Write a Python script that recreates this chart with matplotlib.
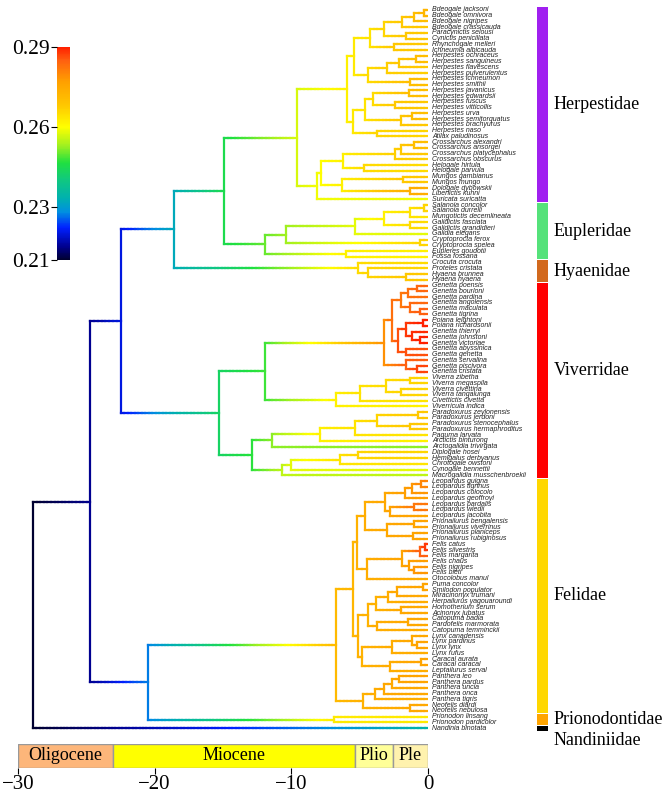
import numpy as np
import matplotlib
matplotlib.use("Agg")
import matplotlib.pyplot as plt
from matplotlib.collections import LineCollection
from matplotlib.colors import LinearSegmentedColormap, Normalize
from matplotlib.cm import ScalarMappable

# -----------------------------
# 1. Tree data: "(child,child)age|rate", tips "Name|rate" (rate defaults to parent)
# -----------------------------
bdeogale = ("(((((Bdeogale jacksoni,Bdeogale omnivora)0.3|0.272,Bdeogale nigripes)1.0|0.27,"
            "Bdeogale crassicauda)1.9|0.268,(Paracynictis selousi,Cynictis penicillata)1.6|0.268)3.2|0.266,"
            "(Rhynchogale melleri,Ichneumia albicauda)2.5|0.268)4.25|0.264")
herpestes_a = ("((((Herpestes ochraceus,Herpestes sanguineus)0.9|0.27,Herpestes flavescens)2.1|0.268,"
               "Herpestes pulverulentus)3.0|0.267,(Herpestes ichneumon,Herpestes smithii)1.3|0.27)4.4|0.265")
herpestes_b = ("((((Herpestes javanicus,Herpestes edwardsii)1.4|0.27,(Herpestes fuscus,Herpestes vitticollis)2.4|0.268)4.0|0.265,"
               "((Herpestes urva,Herpestes semitorquatus)1.2|0.27,Herpestes brachyurus)2.0|0.268)4.6|0.264,"
               "(Herpestes naso,Atilax paludinosus)3.7|0.266)5.5|0.263")
mungotinae = ("((((((Crossarchus alexandri,Crossarchus ansorgei)1.0|0.27,Crossarchus platycephalus)2.0|0.268,"
              "Crossarchus obscurus)2.4|0.267,(Helogale hirtula,Helogale parvula)4.7|0.265)6.2|0.262,"
              "((Mungos gambianus,Mungos mungo)1.8|0.268,(Dologale dybowskii,Liberiictis kuhni)1.3|0.274)6.3|0.262)7.8|0.26,"
              "Suricata suricatta)8.1|0.259")
herpestidae = "(((" + bdeogale + "," + herpestes_a + ")5.4|0.263," + herpestes_b + ")5.9|0.262," + mungotinae + ")9.6|0.257"

eupleridae = ("((((((Salanoia concolor,Salanoia durrelli)0.3|0.266,Mungotictis decemlineata)1.3|0.264,"
              "(Galidictis fasciata,Galidictis grandidieri)1.3|0.265)3.2|0.262,Galidia elegans)5.35|0.258,"
              "(Cryptoprocta ferox,Cryptoprocta spelea)0.6|0.266)10.4|0.253,"
              "(Eupleres goudotii,Fossa fossana)6.0|0.262)11.9|0.25")

hyaenidae = "(Crocuta crocuta,(Proteles cristata,(Hyaena brunnea,Hyaena hyaena)1.6|0.268)4.4|0.266)5.1|0.265"

genetta_a = ("(((Genetta poensis,Genetta bourloni)0.8|0.284,Genetta pardina)1.5|0.283,"
             "(Genetta angolensis,(Genetta maculata,Genetta tigrina)0.6|0.285)1.3|0.284)2.0|0.282")
genetta_b = ("((Poiana leightoni,Poiana richardsonii)0.4|0.29,"
             "(Genetta thierryi,(Genetta johnstoni,Genetta victoriae)0.6|0.29)1.2|0.289)1.6|0.288")
genetta_c = "(Genetta abyssinica,Genetta genetta)1.6|0.286"
genetta_d = "(Genetta servalina,(Genetta piscivora,Genetta cristata)0.8|0.287)1.6|0.285"
genettinae = "((" + genetta_a + ",(" + genetta_b + "," + genetta_c + ")2.2|0.286)2.6|0.283," + genetta_d + ")3.2|0.279"
viverra = ("((((Viverra zibetha,Viverra megaspila)1.3|0.266,(Viverra civettina,Viverra tangalunga)2.0|0.266)3.1|0.265,"
           "Civettictis civetta)5.0|0.264,Viverricula indica)6.7|0.262")
paradoxurinae = ("(((((Paradoxurus zeylonensis,Paradoxurus jerdoni)0.7|0.268,"
                 "(Paradoxurus stenocephalus,Paradoxurus hermaphroditus)1.3|0.268)3.7|0.266,Paguma larvata)5.35|0.264,"
                 "Arctictis binturong)7.9|0.262,Arctogalidia trivirgata)11.45|0.252")
hemigalinae = ("((((Diplogale hosei,Hemigalus derbyanus)5.1|0.266,Chrotogale owstoni)6.45|0.264,"
               "Cynogale bennettii)10.0|0.258,Macrogalidia musschenbroekii)10.7|0.255")
viverridae = ("((" + genettinae + "," + viverra + ")11.9|0.248,(" + paradoxurinae + "," + hemigalinae
              + ")12.9|0.247)15.3|0.243")

leopardus = ("((((Leopardus guigna,Leopardus tigrinus)0.5|0.28,Leopardus colocolo)1.2|0.278,Leopardus geoffroyi)1.7|0.277,"
             "((Leopardus pardalis,Leopardus wiedii)1.0|0.282,Leopardus jacobita)2.8|0.276)3.15|0.275")
prionailurus = ("((Prionailurus bengalensis,Prionailurus viverrinus)1.0|0.276,"
                "(Prionailurus planiceps,Prionailurus rubiginosus)1.1|0.276)3.0|0.275")
felis = ("(((Felis catus,Felis silvestris)0.25|0.288,Felis margarita)0.6|0.285,"
         "(Felis chaus,(Felis nigripes,Felis bieti)1.0|0.278)1.4|0.277)1.93|0.276")
puma = ("((((Puma concolor,Smilodon populator)0.4|0.276,Miracinonyx trumani)2.3|0.275,Herpailurus yagouaroundi)2.9|0.274,"
        "(Homotherium serum,Acinonyx jubatus)2.0|0.275)3.8|0.273")
baycat = "((Catopuma badia,Pardofelis marmorata)1.5|0.275,Catopuma temminckii)3.7|0.274"
lynx = "((Lynx canadensis,(Lynx pardinus,Lynx lynx)0.8|0.276)1.2|0.275,Lynx rufus)2.6|0.274"
caracal = "((Caracal aurata,Caracal caracal)0.5|0.276,Leptailurus serval)2.8|0.274"
pantherinae = ("(((((Panthera leo,Panthera pardus)2.1|0.276,Panthera uncia)2.6|0.275,Panthera onca)3.2|0.275,"
               "Panthera tigris)3.88|0.274,(Neofelis diardi,Neofelis nebulosa)1.3|0.275)4.76|0.273")
felinae = ("(((" + leopardus + "," + prionailurus + ")4.6|0.274,(" + felis + ",Otocolobus manul)4.5|0.274)5.22|0.273,"
           "((" + puma + "," + baycat + ")4.4|0.273,(" + lynx + "," + caracal + ")4.86|0.273)5.1|0.273)5.47|0.272")
felidae = "(" + felinae + "," + pantherinae + ")6.74|0.271"
prionodontidae = "(Prionodon linsang,Prionodon pardicolor)6.86|0.263"
nandiniidae = "Nandinia binotata|0.234"

tree_str = ("(((((" + herpestidae + "," + eupleridae + ")14.9|0.245," + hyaenidae + ")18.6|0.232,"
            + viverridae + ")22.5|0.22,(" + felidae + "," + prionodontidae + ")20.5|0.227)24.7|0.215,"
            + nandiniidae + ")28.9|0.21")

family_names = ["Herpestidae", "Eupleridae", "Hyaenidae", "Viverridae", "Felidae", "Prionodontidae", "Nandiniidae"]
family_trees = [herpestidae, eupleridae, hyaenidae, viverridae, felidae, prionodontidae, nandiniidae]
family_colors = ["#a020f0", "#55e27a", "#d2691e", "#ff0000", "#ffd700", "#ffa500", "#000000"]
label_nudge = [0, 0, 0, -1.8, 0, 0, 2.2]

epochs = ["Oligocene", "Miocene", "Plio", "Ple"]
epoch_start = [-30, -23.03, -5.33, -2.58]
epoch_end = [-23.03, -5.33, -2.58, 0]
epoch_colors = ["#fdb67a", "#ffff00", "#ffff99", "#fff2ae"]

rate_ticks = [0.21, 0.23, 0.26, 0.29]
rate_stops = [0.21, 0.215, 0.222, 0.228, 0.233, 0.24, 0.2465, 0.253, 0.26, 0.268, 0.277, 0.285, 0.29]
rate_colors = ["#000030", "#000090", "#0020ff", "#0090e0", "#00b0b0", "#10c880", "#20e040",
               "#a0f020", "#ffff00", "#ffc800", "#ffa000", "#ff6010", "#ff2000"]

# -----------------------------
# 2. Parse tree
# -----------------------------
def parse_tree(s):
    pos = 0

    def read_label():
        nonlocal pos
        start = pos
        while pos < len(s) and s[pos] not in ",()":
            pos += 1
        return s[start:pos].strip()

    def read_node():
        nonlocal pos
        if s[pos] == "(":
            pos += 1
            kids = [read_node()]
            while s[pos] == ",":
                pos += 1
                kids.append(read_node())
            pos += 1
            age, val = read_label().split("|")
            return {"kids": kids, "age": float(age), "val": float(val)}
        name, _, val = read_label().partition("|")
        return {"kids": [], "name": name, "age": 0.0, "val": float(val) if val else None}

    return read_node()

root = parse_tree(tree_str)
tips = []

def layout(node, parent_val):
    if node["val"] is None:
        node["val"] = parent_val
    if not node["kids"]:
        node["y"] = len(tips)
        tips.append(node)
    else:
        for k in node["kids"]:
            layout(k, node["val"])
        node["y"] = (node["kids"][0]["y"] + node["kids"][-1]["y"]) / 2

layout(root, root["val"])
n_tips = len(tips)

# -----------------------------
# 3. Colour map
# -----------------------------
lo, hi = rate_stops[0], rate_stops[-1]
cmap = LinearSegmentedColormap.from_list(
    "rate", [((v - lo) / (hi - lo), c) for v, c in zip(rate_stops, rate_colors)])
norm = Normalize(lo, hi)

segs, cols = [], []

def draw(node):
    for k in node["kids"]:
        n = max(2, int((node["age"] - k["age"]) * 4))
        xs = np.linspace(-node["age"], -k["age"], n + 1)
        vs = np.linspace(node["val"], k["val"], n + 1)
        for i in range(n):
            segs.append([(xs[i], k["y"]), (xs[i + 1], k["y"])])
            cols.append(cmap(norm((vs[i] + vs[i + 1]) / 2)))
        draw(k)
    if node["kids"]:
        segs.append([(-node["age"], node["kids"][0]["y"]), (-node["age"], node["kids"][-1]["y"])])
        cols.append(cmap(norm(node["val"])))

draw(root)

# -----------------------------
# 4. Plot
# -----------------------------
W, H = 665, 794
fig = plt.figure(figsize=(W / 100, H / 100), dpi=100)
serif = "Liberation Serif"

ax = fig.add_axes([18 / W, (H - 731) / H, 410 / W, 724 / H])
ax.add_collection(LineCollection(segs, colors=cols, linewidths=1.6, capstyle="projecting"))
ax.set_xlim(-30, 0)
ax.set_ylim(n_tips - 0.5, -0.5)
ax.axis("off")

for t in tips:
    ax.text(0.3, t["y"], t["name"], fontsize=5, style="italic", family="Liberation Sans",
            color="#222222", va="center", ha="left", clip_on=False)

# family bars
px = 410 / 30.0
start = 0
for name, sub, col, nudge in zip(family_names, family_trees, family_colors, label_nudge):
    count = sub.count(",") + 1
    y0, y1 = start - 0.42, start + count - 1 + 0.42
    ax.add_patch(plt.Rectangle((109 / px, y0), 11 / px, y1 - y0, color=col, clip_on=False, lw=0))
    ax.text(126 / px, (y0 + y1) / 2 + nudge, name, fontsize=13, family=serif,
            va="center", ha="left", clip_on=False)
    start += count

# colour bar
cax = fig.add_axes([57 / W, (H - 260) / H, 13 / W, 213 / H])
cb = fig.colorbar(ScalarMappable(norm=norm, cmap=cmap), cax=cax, ticks=rate_ticks)
cb.outline.set_visible(False)
cax.yaxis.set_ticks_position("left")
cax.tick_params(length=4, width=0.8, labelsize=15.5, pad=1)
cax.set_yticklabels(["%.2f" % v for v in rate_ticks], family=serif)

# geological time bar
gax = fig.add_axes([18 / W, (H - 768) / H, 410 / W, 24 / H])
gax.barh(0, np.array(epoch_end) - np.array(epoch_start), left=epoch_start, height=1,
         color=epoch_colors, edgecolor="#999999", linewidth=1)
for name, s, e in zip(epochs, epoch_start, epoch_end):
    gax.text((s + e) / 2, 0, name, fontsize=13, family=serif, ha="center", va="center")
gax.set_xlim(-30, 0)
gax.set_ylim(-0.5, 0.5)
gax.set_yticks([])
for sp in gax.spines.values():
    sp.set_visible(False)
gax.set_xticks([-30, -20, -10, 0])
gax.tick_params(axis="x", length=4, width=0.8, labelsize=15, pad=1)
for lbl in gax.get_xticklabels():
    lbl.set_family(serif)

fig.savefig("out.png", dpi=100)
